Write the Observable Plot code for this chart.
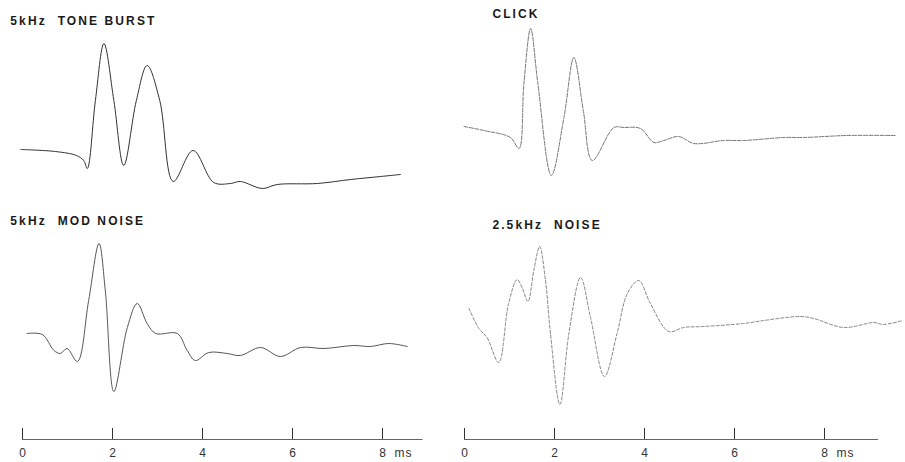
<!DOCTYPE html>
<html>
<head>
<meta charset="utf-8">
<script src="https://cdn.jsdelivr.net/npm/d3@7"></script>
<script src="https://cdn.jsdelivr.net/npm/@observablehq/plot@0.6"></script>
<style>
  html, body { margin: 0; padding: 0; background: #fff; }
  #chart svg { display: block; font-family: "Liberation Sans", Arial, sans-serif; }
  #chart text { white-space: pre; }
</style>
</head>
<body>
<div id="chart"></div>
<script>
// ---- data (time in ms, amplitude in arbitrary units) ----
const panelNames = ["tone", "click", "mod", "noise"];
const panelTitles = ["5kHz  TONE BURST", "CLICK", "5kHz  MOD NOISE", "2.5kHz  NOISE"];
const panelCols = ["L", "R", "L", "R"];
const panelRows = ["top", "top", "bottom", "bottom"];

const toneT = [-0.04, 0.73, 1.2, 1.36, 1.44, 1.62, 1.81, 2.03, 2.25, 2.53, 2.77, 3.05, 3.35, 3.79, 4.25, 4.62, 4.84, 5.33, 5.66, 6.55, 7.29, 7.96, 8.4];
const toneV = [1, -1, -5, -10, -18, 50, 107, 50, -15, 50, 85, 50, -31, 0, -32, -33, -31, -38, -34, -33, -29, -26, -24];

const clickT = [-0.01, 0.43, 1.02, 1.21, 1.32, 1.47, 1.63, 1.93, 2.21, 2.43, 2.64, 2.84, 3.32, 3.54, 3.91, 4.21, 4.43, 4.76, 5.1, 5.76, 6.2, 7.1, 7.54, 8.5, 9.6];
const clickV = [24, 20, 13, 2, 67, 122, 67, -25, 33, 93, 40, -10, 23, 23, 22, 8, 10, 14, 7, 10, 10, 13, 13, 15, 15];

const modT = [0.1, 0.44, 0.7, 0.84, 0.99, 1.22, 1.47, 1.7, 1.84, 2.03, 2.33, 2.55, 2.77, 2.96, 3.44, 3.66, 3.84, 4.14, 4.55, 4.84, 5.29, 5.73, 6.18, 6.7, 7.36, 7.73, 8.14, 8.55];
const modV = [48, 47, 31, 28, 33, 20, 81, 138, 91, -10, 54, 78, 58, 48, 48, 31, 21, 29, 28, 26, 34, 25, 34, 33, 36, 35, 38, 35];

const noiseT = [0.1, 0.32, 0.5, 0.76, 0.98, 1.17, 1.28, 1.41, 1.54, 1.67, 1.8, 1.91, 2.12, 2.32, 2.58, 2.8, 3.11, 3.39, 3.62, 3.87, 4.13, 4.54, 4.87, 5.32, 6.2, 6.65, 7.47, 7.76, 8.43, 9.1, 9.3, 9.74];
const noiseV = [73, 53, 44, 19, 78, 102, 94, 80, 111, 135, 101, 48, -23, 48, 104, 64, 5, 48, 88, 101, 78, 50, 54, 55, 58, 61, 65, 63, 54, 59, 57, 61];

const tickValues = [0, 2, 4, 6, 8];
const tickLabels = ["0", "2", "4", "6", "8"];
const axisCols = ["L", "R"];
const axisEnds = [8.9, 9.2];
const unitLabel = "ms";

// ---- layout / styles (not data) ----
const titleX = {L: -0.27, R: 0.62};
const titleY = [129, 136, 160, 156];
const axisLevel = -58;
const tickLen = 11;
const traceStyles = {
  tone:  {stroke: "#333", strokeWidth: 1},
  click: {stroke: "#666", strokeWidth: 0.9, strokeDasharray: "4,1.5"},
  mod:   {stroke: "#444", strokeWidth: 0.9},
  noise: {stroke: "#777", strokeWidth: 0.9, strokeDasharray: "3,2"}
};

const series = [[toneT, toneV], [clickT, clickV], [modT, modV], [noiseT, noiseV]];
const traces = series.flatMap(([T, V], k) => T.map((t, i) => ({
  panel: panelNames[k], col: panelCols[k], row: panelRows[k], t, v: V[i]
})));
const titles = panelNames.map((p, k) => ({
  col: panelCols[k], row: panelRows[k], text: panelTitles[k], x: titleX[panelCols[k]], y: titleY[k]
}));
const axisLines = axisCols.map((c, i) => ({col: c, row: "bottom", x2: axisEnds[i]}));
const ticks = axisCols.flatMap(c => tickValues.map((t, i) => ({col: c, row: "bottom", t, label: tickLabels[i]})));
const units = axisCols.map(c => ({col: c, row: "bottom", t: tickValues[tickValues.length - 1]}));

const chart = Plot.plot({
  width: 905,
  height: 462,
  marginLeft: 22,
  marginRight: 0,
  marginTop: 0,
  marginBottom: 0,
  x: {domain: [0, 9.8], axis: null},
  y: {domain: [-81, 150], axis: null},
  fx: {domain: ["L", "R"], paddingInner: 1 / 442, paddingOuter: 0, round: false, axis: null},
  fy: {domain: ["top", "bottom"], padding: 0, round: false, axis: null},
  marks: [
    ...panelNames.map(name => Plot.line(traces.filter(d => d.panel === name),
      {x: "t", y: "v", fx: "col", fy: "row", curve: "catmull-rom", ...traceStyles[name]})),
    Plot.text(titles, {x: "x", y: "y", fx: "col", fy: "row", text: "text", textAnchor: "start",
      fontSize: 12, fontWeight: "bold", fill: "#1a1a1a"}),
    Plot.ruleY(axisLines, {y: () => axisLevel, x1: () => 0, x2: "x2", fx: "col", fy: "row",
      stroke: "#666", strokeWidth: 1}),
    Plot.ruleX(ticks, {x: "t", y1: () => axisLevel, y2: () => axisLevel + tickLen, fx: "col", fy: "row",
      stroke: "#333", strokeWidth: 1}),
    Plot.text(ticks, {x: "t", y: () => axisLevel, dy: 14, text: "label", fx: "col", fy: "row",
      fontSize: 12, fill: "#333"}),
    Plot.text(units, {x: "t", y: () => axisLevel, dy: 14, dx: 12, text: () => unitLabel, fx: "col", fy: "row",
      textAnchor: "start", fontSize: 12, fill: "#333"})
  ]
});
// widen the panel titles with letter spacing, as in the original typewriter-like lettering
d3.select(chart).selectAll("text")
  .filter(function() { return panelTitles.includes(this.textContent); })
  .style("letter-spacing", "2.1px");
d3.select(chart).selectAll("text")
  .filter(function() { return this.textContent === unitLabel; })
  .style("letter-spacing", "1px");
document.getElementById("chart").append(chart);
</script>
</body>
</html>
